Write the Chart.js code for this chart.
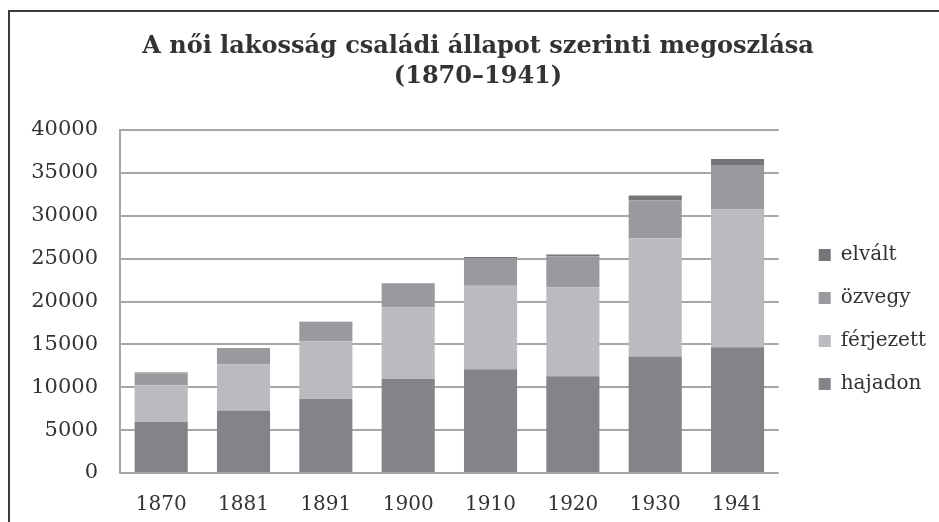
<!DOCTYPE html>
<html>
<head>
<meta charset="utf-8">
<script src="https://cdn.jsdelivr.net/npm/chart.js@4"></script>
<style>
  html, body { margin: 0; padding: 0; background: #ffffff; }
  #wrap { position: relative; width: 939px; height: 522px; }
  #frame { position: absolute; left: 8px; top: 10px; right: 0; bottom: 0;
           border-left: 2px solid #3a3a3a; border-top: 2px solid #3a3a3a; pointer-events: none; }
</style>
</head>
<body>
<div id="wrap">
  <canvas id="c" width="939" height="522"></canvas>
  <div id="frame"></div>
</div>
<script>
const categories = ['1870', '1881', '1891', '1900', '1910', '1920', '1930', '1941'];
const hajadon   = [5950, 7280, 8640, 10970, 12100, 11280, 13580, 14670];
const ferjezett = [4280, 5370, 6690, 8370, 9730, 10390, 13810, 16070];
const ozvegy    = [1360, 1830, 2180, 2720, 3230, 3580, 4400, 5100];
const elvalt    = [120, 100, 120, 80, 120, 230, 580, 780];
const seriesNames = ['hajadon', 'férjezett', 'özvegy', 'elvált'];
const titleLines = ['A női lakosság családi állapot szerinti megoszlása', '(1870–1941)'];

const colors = ['#838488', '#babbbe', '#999a9e', '#75767a'];
const seriesData = [hajadon, ferjezett, ozvegy, elvalt];
const serif = '"DejaVu Serif", "Liberation Serif", serif';

const bgPlugin = {
  id: 'bg',
  beforeDraw(chart) {
    const ctx = chart.ctx;
    ctx.save();
    ctx.fillStyle = '#ffffff';
    ctx.fillRect(0, 0, chart.width, chart.height);
    ctx.restore();
  }
};

new Chart(document.getElementById('c'), {
  type: 'bar',
  data: {
    labels: categories,
    datasets: seriesNames.map((n, i) => ({
      label: n,
      data: seriesData[i],
      backgroundColor: colors[i],
      borderWidth: 0,
      barPercentage: 0.645,
      categoryPercentage: 1.0
    }))
  },
  options: {
    responsive: false,
    animation: false,
    devicePixelRatio: 1,
    layout: { padding: { left: 20, right: 3, top: 0, bottom: 0 } },
    plugins: {
      title: {
        display: true,
        text: titleLines,
        color: '#333333',
        font: { family: serif, size: 24, weight: 'bold', lineHeight: 1.25 },
        padding: { top: 32, bottom: 38 }
      },
      legend: {
        position: 'right',
        align: 'start',
        reverse: true,
        title: { display: true, text: '', font: { size: 10, lineHeight: 1 }, padding: { top: 212, bottom: 0 } },
        labels: {
          boxWidth: 12,
          boxHeight: 12,
          padding: 23,
          color: '#333333',
          font: { family: serif, size: 20 }
        }
      },
      tooltip: { enabled: false }
    },
    scales: {
      x: {
        stacked: true,
        grid: { display: false, drawTicks: false },
        border: { display: false },
        ticks: { color: '#333333', font: { family: serif, size: 20 }, padding: 20, maxRotation: 0 },
        afterFit(s) { s.height = 49; }
      },
      y: {
        stacked: true,
        min: 0,
        max: 40000,
        ticks: { stepSize: 5000, color: '#333333', font: { family: serif, size: 21 }, padding: 22,
                 callback: v => String(v) },
        grid: { color: '#a6a6a6', lineWidth: 2, drawTicks: false },
        border: { display: true, color: '#a6a6a6', width: 2 },
        afterFit(s) { s.width = 100; }
      },
      y2: {
        position: 'right',
        display: true,
        grid: { display: false, drawTicks: false },
        border: { display: false },
        ticks: { display: false },
        afterFit(s) { s.width = 17; }
      }
    }
  },
  plugins: [bgPlugin]
});
</script>
</body>
</html>
